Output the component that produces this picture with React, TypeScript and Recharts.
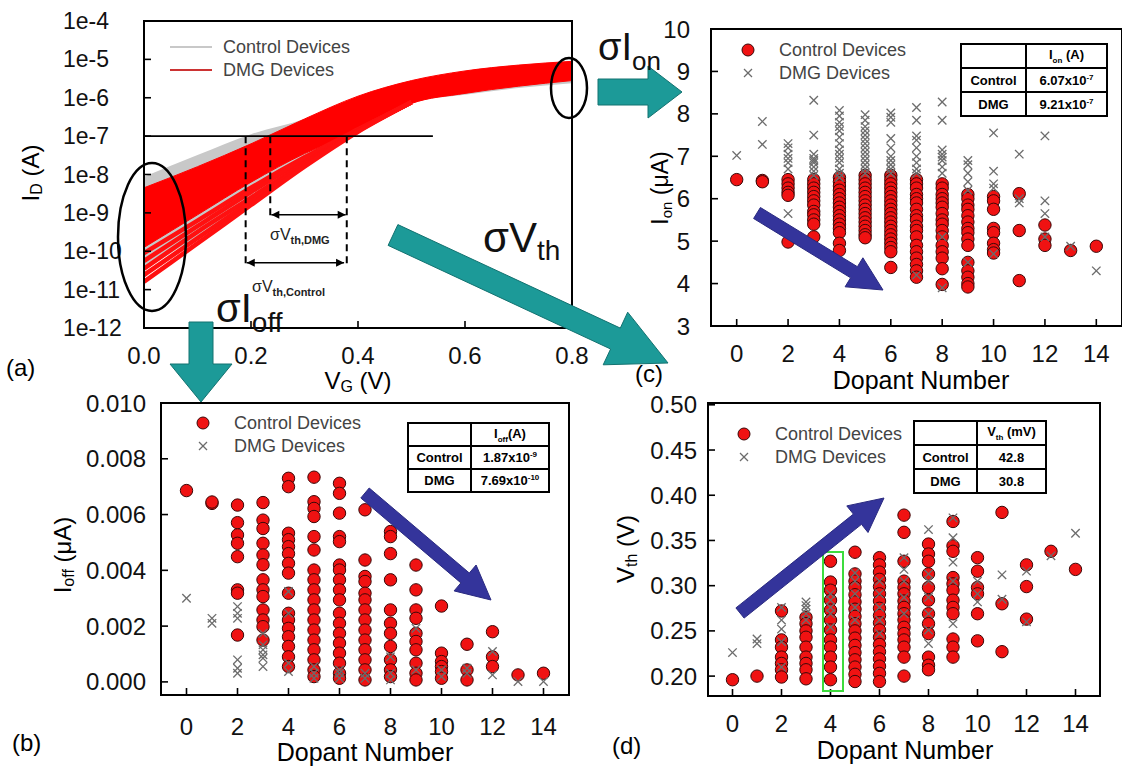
import React from "react";
import {
  ComposedChart, Area, Line, XAxis, YAxis, ReferenceLine, ReferenceArea, ScatterChart, Scatter,
} from "recharts";

const FONT = "'Liberation Sans', Arial, Helvetica, sans-serif";

// ---- panel (a): I_D vs V_G sweep (A) ----
const vg = [0, 0.1, 0.2, 0.3, 0.4, 0.5, 0.6, 0.7, 0.8];
const ctrlUpper = [8.7e-9, 3.2e-8, 1.12e-7, 2.8e-7, 1.0e-6, 2.5e-6, 4.5e-6, 6.3e-6, 7.9e-6];
const ctrlLower = [3.2e-11, 2.5e-10, 2.0e-9, 1.6e-8, 1.3e-7, 7.5e-7, 1.2e-6, 1.8e-6, 2.4e-6];
const dmgUpper = [4.5e-9, 1.6e-8, 6.3e-8, 2.8e-7, 1.1e-6, 2.8e-6, 5.0e-6, 7.1e-6, 8.9e-6];
const dmgLower = [1.26e-10, 8.9e-10, 6.3e-9, 3.5e-8, 1.3e-7, 7.1e-7, 1.3e-6, 2.0e-6, 2.8e-6];
// outlying DMG devices below the main bundle, joining it near 0.5 V
const dmgTail1 = [8.9e-11, 6.3e-10, 4.5e-9, 2.8e-8, 1.5e-7, 7.6e-7];
const dmgTail2 = [5.6e-11, 4.5e-10, 3.5e-9, 2.5e-8, 1.45e-7, 7.6e-7];
const dmgTail3 = [3.5e-11, 3.2e-10, 2.5e-9, 2.0e-8, 1.4e-7, 7.6e-7];
const dmgTail4 = [2.4e-11, 2.2e-10, 2.0e-9, 1.8e-8, 1.35e-7, 7.6e-7];
const dmgTail5 = [1.6e-11, 1.6e-10, 1.6e-9, 1.6e-8, 1.3e-7, 7.6e-7];
const vgTicks = [0, 0.2, 0.4, 0.6, 0.8];
const idTicks = [1e-12, 1e-11, 1e-10, 1e-9, 1e-8, 1e-7, 1e-6, 1e-5, 1e-4];

const sweep = vg.map((v, i) => ({
  v,
  ctrl: [ctrlLower[i], ctrlUpper[i]],
  dmg: [dmgLower[i], dmgUpper[i]],
  t1: dmgTail1[i], t2: dmgTail2[i], t3: dmgTail3[i], t4: dmgTail4[i], t5: dmgTail5[i],
}));

// ---- scatter panels: [dopant number, values] ----
type Col = [number, number[]][];
const dopantTicks = [0, 2, 4, 6, 8, 10, 12, 14];

const ionControl: Col = [
  [0, [6.45]], [1, [6.43, 6.4]], [2, [6.45, 6.35, 6.25, 6.15, 6.08, 4.98]],
  [3, [6.45, 6.35, 6.25, 6.15, 6.05, 5.95, 5.85, 5.7, 5.62, 5.5, 5.4, 5.1]],
  [4, [6.5, 6.4, 6.3, 6.2, 6.1, 6.0, 5.9, 5.8, 5.7, 5.6, 5.5, 5.4, 5.3, 5.2, 4.95, 4.78]],
  [5, [6.55, 6.45, 6.35, 6.25, 6.15, 6.05, 5.95, 5.85, 5.75, 5.65, 5.55, 5.45, 5.35, 5.25, 5.15, 5.08]],
  [6, [6.55, 6.45, 6.35, 6.25, 6.15, 6.05, 5.95, 5.85, 5.75, 5.65, 5.55, 5.45, 5.35, 5.25, 5.15, 5.05, 4.95, 4.85, 4.75, 4.38]],
  [7, [6.45, 6.35, 6.25, 6.1, 6.0, 5.9, 5.75, 5.6, 5.5, 5.35, 5.25, 5.1, 4.9, 4.75, 4.6, 4.45, 4.3, 4.15]],
  [8, [6.35, 6.25, 6.1, 6.0, 5.9, 5.8, 5.65, 5.5, 5.4, 5.25, 5.1, 4.9, 4.75, 4.6, 4.35, 3.98]],
  [9, [6.1, 6.0, 5.85, 5.75, 5.6, 5.45, 5.3, 5.2, 5.05, 4.9, 4.5, 4.3, 4.15, 4.0, 3.92]],
  [10, [6.05, 5.95, 5.75, 5.3, 5.2, 4.95, 4.8, 4.72]],
  [11, [6.12, 5.25, 4.07]], [12, [5.38, 5.05, 4.9]], [13, [4.78]], [14, [4.88]],
];
const ionDmg: Col = [
  [0, [7.02]], [1, [7.82, 7.28]], [2, [7.3, 7.2, 7.05, 6.95, 6.85, 6.7, 5.65]],
  [3, [8.32, 7.5, 7.05, 6.95, 6.9, 6.85, 6.75, 6.65, 6.55]],
  [4, [8.08, 7.95, 7.8, 7.7, 7.6, 7.45, 7.3, 7.15, 7.05, 6.95, 6.85, 6.7, 6.6, 6.5]],
  [5, [7.98, 7.85, 7.7, 7.6, 7.5, 7.4, 7.3, 7.2, 7.1, 7.0, 6.9, 6.8, 6.7, 6.6]],
  [6, [8.02, 7.92, 7.8, 7.42, 7.2, 7.0, 6.9, 6.8, 6.7, 6.6]],
  [7, [8.15, 7.85, 7.48, 7.38, 7.2, 7.0, 6.85, 6.7, 6.6, 4.2]],
  [8, [8.28, 7.85, 7.15, 7.05, 6.98, 6.9, 6.75, 6.6, 5.1, 3.9]],
  [9, [6.9, 6.8, 6.6, 6.4, 6.2, 4.5]], [10, [7.55, 6.65, 6.35, 6.25, 4.7]],
  [11, [7.05, 6.0, 5.9]], [12, [7.48, 5.95, 5.65, 5.1]], [13, [4.88]], [14, [4.3]],
];
const ionTicks = [3, 4, 5, 6, 7, 8, 9, 10];

const ioffControl: Col = [
  [0, [0.00686]], [1, [0.0064, 0.00645]],
  [2, [0.00634, 0.00571, 0.00527, 0.00497, 0.00449, 0.0033, 0.00318, 0.00168]],
  [3, [0.00643, 0.0058, 0.0055, 0.00497, 0.00455, 0.0042, 0.00366, 0.0033, 0.00306, 0.00258, 0.00222, 0.00198, 0.0015]],
  [4, [0.0073, 0.007, 0.00533, 0.0051, 0.00485, 0.0046, 0.00425, 0.0039, 0.00318, 0.00246, 0.00222, 0.00192, 0.00162, 0.00127, 0.0009, 0.00055]],
  [5, [0.00734, 0.00646, 0.00622, 0.00593, 0.00521, 0.00473, 0.00401, 0.00366, 0.0033, 0.00294, 0.00258, 0.00222, 0.00186, 0.0015, 0.00115, 0.00079, 0.00043, 0.00019]],
  [6, [0.00712, 0.00676, 0.00605, 0.00521, 0.00503, 0.00419, 0.00401, 0.00366, 0.0033, 0.00294, 0.00246, 0.0021, 0.00174, 0.00139, 0.00103, 0.00067, 0.00031, 0.00013]],
  [7, [0.00617, 0.00437, 0.00378, 0.0036, 0.00318, 0.00294, 0.00258, 0.00222, 0.00186, 0.0015, 0.00115, 0.00079, 0.00043, 0.00007]],
  [8, [0.00539, 0.00521, 0.0046, 0.00366, 0.00258, 0.0021, 0.00174, 0.00127, 0.00079, 0.00043, 0.00019]],
  [9, [0.00419, 0.0033, 0.00258, 0.00228, 0.00174, 0.00145, 0.00115, 0.00067, 0.00031, 0.00007]],
  [10, [0.00272, 0.00103, 0.00073, 0.00055, 0.00037, 0.00013]],
  [11, [0.00135, 0.00043, 0.00007]], [12, [0.0018, 0.0009, 0.00055]], [13, [0.00025]], [14, [0.00031]],
];
const ioffDmg: Col = [
  [0, [0.003]], [1, [0.00228, 0.0021]], [2, [0.0027, 0.00246, 0.00228, 0.00079, 0.00049, 0.00031]],
  [3, [0.00174, 0.00133, 0.00115, 0.00097, 0.00085, 0.00055]], [4, [0.00324, 0.00246, 0.00067, 0.00037]],
  [5, [0.00055, 0.00031, 0.00013]], [6, [0.00043, 0.00031, 0.00013]], [7, [0.00031, 0.00013]],
  [8, [0.0009, 0.00031, 0.00007]], [9, [0.00192, 0.00043]], [10, [0.00043, 0.00019]],
  [11, [0.00049, 0.00031]], [12, [0.00109, 0.00025]], [13, [0.00001]], [14, [0.00001]],
];
const ioffTicks = [0, 0.002, 0.004, 0.006, 0.008, 0.01];

const vthControl: Col = [
  [0, [0.196]], [1, [0.2]], [2, [0.272, 0.24, 0.232, 0.221, 0.214, 0.207, 0.199]],
  [3, [0.265, 0.258, 0.25, 0.243, 0.232, 0.221, 0.214, 0.207, 0.197]],
  [4, [0.327, 0.304, 0.295, 0.284, 0.273, 0.262, 0.251, 0.24, 0.232, 0.221, 0.21, 0.196]],
  [5, [0.337, 0.313, 0.305, 0.298, 0.29, 0.282, 0.274, 0.266, 0.258, 0.25, 0.242, 0.234, 0.226, 0.218, 0.21, 0.202, 0.194]],
  [6, [0.331, 0.323, 0.315, 0.307, 0.299, 0.291, 0.283, 0.275, 0.267, 0.259, 0.251, 0.243, 0.235, 0.227, 0.219, 0.211, 0.203, 0.194]],
  [7, [0.378, 0.359, 0.327, 0.305, 0.298, 0.291, 0.283, 0.276, 0.269, 0.262, 0.254, 0.247, 0.24, 0.232, 0.221, 0.2]],
  [8, [0.346, 0.335, 0.327, 0.313, 0.298, 0.284, 0.269, 0.258, 0.247, 0.221, 0.212, 0.207]],
  [9, [0.371, 0.344, 0.338, 0.309, 0.302, 0.295, 0.284, 0.276, 0.269, 0.241, 0.232, 0.221]],
  [10, [0.331, 0.316, 0.298, 0.291, 0.269, 0.239]],
  [11, [0.381, 0.28, 0.227]], [12, [0.323, 0.299, 0.263]], [13, [0.338]], [14, [0.318]],
];
const vthDmg: Col = [
  [0, [0.226]], [1, [0.241, 0.236]], [2, [0.276, 0.262, 0.252, 0.238, 0.21]],
  [3, [0.282, 0.278, 0.274, 0.269, 0.262]], [4, [0.291, 0.284, 0.276, 0.269, 0.254]],
  [5, [0.314, 0.305, 0.291, 0.276, 0.262]], [6, [0.305, 0.291, 0.276, 0.262, 0.247]],
  [7, [0.331, 0.318, 0.305, 0.287, 0.269]], [8, [0.362, 0.313, 0.305, 0.287, 0.269, 0.251, 0.236]],
  [9, [0.375, 0.353, 0.326, 0.305, 0.258]], [10, [0.305, 0.291, 0.282]],
  [11, [0.312, 0.285]], [12, [0.316, 0.26]], [13, [0.333]], [14, [0.358]],
];
const vthTicks = [0.2, 0.25, 0.3, 0.35, 0.4, 0.45, 0.5];

const flat = (cols: Col) => cols.flatMap(([x, ys]) => ys.map((y) => ({ x, y })));

// ---- decorations (page pixels) ----
type Arrow = { from: [number, number]; to: [number, number]; shaft: number; head: number; len: number };
const tealArrows: Arrow[] = [
  { from: [598, 92], to: [682, 92], shaft: 26, head: 52, len: 34 },
  { from: [201, 322], to: [201, 402], shaft: 24, head: 62, len: 38 },
  { from: [393, 235], to: [668, 363], shaft: 23, head: 58, len: 58 },
];
const blueArrows: Arrow[] = [
  { from: [757, 213], to: [883, 290], shaft: 13, head: 34, len: 34 },
  { from: [365, 493], to: [491, 600], shaft: 13, head: 34, len: 34 },
  { from: [740, 613], to: [884, 498], shaft: 13, head: 34, len: 34 },
];

function arrowPoints({ from, to, shaft, head, len }: Arrow) {
  const [x1, y1] = from;
  const [x2, y2] = to;
  const L = Math.hypot(x2 - x1, y2 - y1);
  const ux = (x2 - x1) / L, uy = (y2 - y1) / L;
  const px = -uy, py = ux;
  const bx = x2 - ux * len, by = y2 - uy * len;
  const p = (x: number, y: number) => `${x.toFixed(1)},${y.toFixed(1)}`;
  return [
    p(x1 + (px * shaft) / 2, y1 + (py * shaft) / 2),
    p(bx + (px * shaft) / 2, by + (py * shaft) / 2),
    p(bx + (px * head) / 2, by + (py * head) / 2),
    p(x2, y2),
    p(bx - (px * head) / 2, by - (py * head) / 2),
    p(bx - (px * shaft) / 2, by - (py * shaft) / 2),
    p(x1 - (px * shaft) / 2, y1 - (py * shaft) / 2),
  ].join(" ");
}

// ---- ticks (drawn inward, like the original) ----
const yTick = (gap: number, fmt: (v: number) => string, anchor: "end" | "start" = "end", fs = 24) =>
  (props: any) => {
    const { x, y, payload } = props;
    const ax = x + gap;
    return (
      <g>
        <line x1={ax} x2={ax + 7} y1={y} y2={y} stroke="#000" strokeWidth={1.6} />
        <text x={x} y={y} textAnchor={anchor} dominantBaseline="central" fontSize={fs} fontFamily={FONT} fill="#111">
          {fmt(payload.value)}
        </text>
      </g>
    );
  };
const xTick = (gap: number, fmt: (v: number) => string, fs = 24) =>
  (props: any) => {
    const { x, y, payload } = props;
    const ay = y - gap;
    return (
      <g>
        <line x1={x} x2={x} y1={ay} y2={ay - 7} stroke="#000" strokeWidth={1.6} />
        <text x={x} y={y} textAnchor="middle" dominantBaseline="central" fontSize={fs} fontFamily={FONT} fill="#111">
          {fmt(payload.value)}
        </text>
      </g>
    );
  };

const axisLine = { stroke: "#000", strokeWidth: 2 };

const RedDot = (p: any) => (
  <circle cx={p.cx} cy={p.cy} r={6.2} fill="#f01212" stroke="#3a0808" strokeWidth={1} />
);
const GreyCross = (p: any) => {
  const s = 4.2;
  return (
    <g stroke="#6c6c6c" strokeWidth={1.3}>
      <line x1={p.cx - s} y1={p.cy - s} x2={p.cx + s} y2={p.cy + s} />
      <line x1={p.cx - s} y1={p.cy + s} x2={p.cx + s} y2={p.cy - s} />
    </g>
  );
};

const DimArrow = (p: any) => {
  const { x1, y1, x2, y2 } = p;
  const h = 8, w = 4;
  return (
    <g>
      <line x1={x1} y1={y1} x2={x2} y2={y2} stroke="#000" strokeWidth={1.6} />
      <polygon points={`${x1},${y1} ${x1 + h},${y1 - w} ${x1 + h},${y1 + w}`} fill="#000" />
      <polygon points={`${x2},${y2} ${x2 - h},${y2 - w} ${x2 - h},${y2 + w}`} fill="#000" />
    </g>
  );
};

function SweepPanel() {
  return (
    <ComposedChart width={600} height={400} data={sweep} margin={{ top: 21, right: 28, bottom: 0, left: 0 }}>
      <XAxis
        dataKey="v" type="number" domain={[0, 0.8]} ticks={vgTicks} interval={0} height={72}
        axisLine={axisLine} tickLine={false} tickSize={0} tickMargin={27}
        tick={xTick(27, (v) => v.toFixed(1))} allowDataOverflow
      />
      <YAxis
        type="number" scale="log" domain={[1e-12, 1e-4]} ticks={idTicks} interval={0} width={144}
        axisLine={axisLine} tickLine={false} tickSize={0} tickMargin={81} allowDataOverflow
        tick={yTick(81, (v) => `1e${Math.round(Math.log10(v))}`, "start", 23)}
      />
      <Area dataKey="ctrl" type="monotone" stroke="none" fill="#c8c8c8" fillOpacity={1} isAnimationActive={false} />
      <Area dataKey="dmg" type="monotone" stroke="#ff0000" strokeWidth={1} fill="#ff0000" fillOpacity={1} isAnimationActive={false} />
      {["t1", "t2", "t3", "t4", "t5"].map((k) => (
        <Line key={k} dataKey={k} type="monotone" stroke="#ff1010" strokeWidth={4.5} dot={false} isAnimationActive={false} />
      ))}
      <ReferenceArea x1={0} x2={0.8} y1={1e-12} y2={1e-4} fill="none" stroke="#000" strokeWidth={2} />
      <ReferenceLine segment={[{ x: 0, y: 1e-7 }, { x: 0.54, y: 1e-7 }]} stroke="#000" strokeWidth={1.6} />
      <ReferenceLine segment={[{ x: 0.19, y: 1e-7 }, { x: 0.19, y: 4e-11 }]} stroke="#000" strokeWidth={2} strokeDasharray="7 5" />
      <ReferenceLine segment={[{ x: 0.236, y: 1e-7 }, { x: 0.236, y: 8e-10 }]} stroke="#000" strokeWidth={2} strokeDasharray="7 5" />
      <ReferenceLine segment={[{ x: 0.379, y: 1e-7 }, { x: 0.379, y: 4e-11 }]} stroke="#000" strokeWidth={2} strokeDasharray="7 5" />
      <ReferenceLine segment={[{ x: 0.238, y: 8.9e-10 }, { x: 0.377, y: 8.9e-10 }]} shape={DimArrow} />
      <ReferenceLine segment={[{ x: 0.192, y: 5e-11 }, { x: 0.374, y: 5e-11 }]} shape={DimArrow} />
    </ComposedChart>
  );
}

type ScatterProps = {
  w: number; h: number; margin: any; yW: number; xH: number;
  yDomain: [number, number]; yTicks: number[]; yGap: number; xGap: number;
  fmt: (v: number) => string; control: Col; dmg: Col;
};
function DopantPanel(p: ScatterProps) {
  return (
    <ScatterChart width={p.w} height={p.h} margin={p.margin}>
      <XAxis
        type="number" dataKey="x" domain={[-1, 15]} ticks={dopantTicks} interval={0} height={p.xH}
        axisLine={axisLine} tickLine={false} tickSize={0} tickMargin={p.xGap}
        tick={xTick(p.xGap, (v) => String(v))} allowDataOverflow
      />
      <YAxis
        type="number" dataKey="y" domain={p.yDomain} ticks={p.yTicks} interval={0} width={p.yW}
        axisLine={axisLine} tickLine={false} tickSize={0} tickMargin={p.yGap}
        tick={yTick(p.yGap, p.fmt)} allowDataOverflow
      />
      <ReferenceArea x1={-1} x2={15} y1={p.yDomain[0]} y2={p.yDomain[1]} fill="none" stroke="#000" strokeWidth={2} />
      <Scatter data={flat(p.control)} shape={RedDot} isAnimationActive={false} />
      <Scatter data={flat(p.dmg)} shape={GreyCross} isAnimationActive={false} />
    </ScatterChart>
  );
}

function ScatterLegend({ x, y }: { x: number; y: number }) {
  return (
    <g fontFamily={FONT} fontSize={18} fill="#444">
      <circle cx={x} cy={y} r={6} fill="#f01212" stroke="#3a0808" strokeWidth={1} />
      <text x={x + 31} y={y} dominantBaseline="central">Control Devices</text>
      <g stroke="#6c6c6c" strokeWidth={1.3}>
        <line x1={x - 4} y1={y + 19} x2={x + 4} y2={y + 27} />
        <line x1={x - 4} y1={y + 27} x2={x + 4} y2={y + 19} />
      </g>
      <text x={x + 31} y={y + 23} dominantBaseline="central">DMG Devices</text>
    </g>
  );
}

const cell: React.CSSProperties = {
  border: "2px solid #000", textAlign: "center", fontWeight: 700, fontSize: 13, padding: 0, fontFamily: FONT,
};
function StatTable({ left, top, w1, w2, rowH, head, rows }: {
  left: number; top: number; w1: number; w2: number; rowH: number;
  head: React.ReactNode; rows: [string, React.ReactNode][];
}) {
  return (
    <table style={{ position: "absolute", left, top, borderCollapse: "collapse", background: "#fff" }}>
      <tbody>
        <tr style={{ height: rowH }}>
          <td style={{ ...cell, width: w1 }} />
          <td style={{ ...cell, width: w2 }}>{head}</td>
        </tr>
        {rows.map(([a, b]) => (
          <tr key={a} style={{ height: rowH }}>
            <td style={cell}>{a}</td>
            <td style={cell}>{b}</td>
          </tr>
        ))}
      </tbody>
    </table>
  );
}
const sci = (m: string, e: string) => (
  <span>{m}x10<sup style={{ fontSize: 8 }}>{e}</sup></span>
);

export default function App() {
  const abs = (left: number, top: number): React.CSSProperties => ({ position: "absolute", left, top });
  return (
    <div style={{ position: "absolute", left: 0, top: 0, width: 1122, height: 769, background: "#fff", overflow: "hidden", fontFamily: FONT }}>
      <div style={abs(0, 0)}><SweepPanel /></div>
      <div style={abs(600, 0)}>
        <DopantPanel w={522} h={400} margin={{ top: 29, right: 0, bottom: 0, left: 0 }} yW={111} xH={74}
          yDomain={[3, 10]} yTicks={ionTicks} yGap={21} xGap={27} fmt={(v) => String(v)}
          control={ionControl} dmg={ionDmg} />
      </div>
      <div style={abs(0, 380)}>
        <DopantPanel w={580} h={389} margin={{ top: 23, right: 11, bottom: 0, left: 0 }} yW={161} xH={74}
          yDomain={[-0.00047, 0.01]} yTicks={ioffTicks} yGap={15} xGap={31} fmt={(v) => v.toFixed(3)}
          control={ioffControl} dmg={ioffDmg} />
      </div>
      <div style={abs(580, 380)}>
        <DopantPanel w={542} h={389} margin={{ top: 23, right: 22, bottom: 0, left: 0 }} yW={128} xH={73}
          yDomain={[0.178, 0.502]} yTicks={vthTicks} yGap={11} xGap={27} fmt={(v) => v.toFixed(2)}
          control={vthControl} dmg={vthDmg} />
      </div>

      <svg width={1122} height={769} style={{ position: "absolute", left: 0, top: 0, pointerEvents: "none" }} fontFamily={FONT}>
        {/* legend (a) */}
        <line x1={170} x2={212} y1={47} y2={47} stroke="#c8c8c8" strokeWidth={2} />
        <line x1={170} x2={212} y1={70} y2={70} stroke="#cc3333" strokeWidth={2} />
        <text x={223} y={47} fontSize={18} fill="#444" dominantBaseline="central">Control Devices</text>
        <text x={223} y={70} fontSize={18} fill="#444" dominantBaseline="central">DMG Devices</text>

        {/* ellipses marking Ioff / Ion spread */}
        <ellipse cx={152} cy={237} rx={34} ry={74} fill="none" stroke="#000" strokeWidth={2.5} />
        <ellipse cx={569} cy={88} rx={18} ry={30} fill="none" stroke="#000" strokeWidth={2.5} />

        {/* dimension labels */}
        <text x={270} y={240} fontSize={16} fill="#222">σV<tspan fontSize={11} fontWeight={700} dy={4}>th,DMG</tspan></text>
        <text x={252} y={292} fontSize={16} fill="#222">σV<tspan fontSize={11} fontWeight={700} dy={4}>th,Control</tspan></text>

        {/* axis titles */}
        <text x={30} y={173} transform="rotate(-90 30 173)" textAnchor="middle" dominantBaseline="central" fontSize={24}>
          I<tspan fontSize={16} dy={6}>D</tspan><tspan dy={-6}> (A)</tspan>
        </text>
        <text x={358} y={380} textAnchor="middle" dominantBaseline="central" fontSize={24}>
          V<tspan fontSize={16} dy={6}>G</tspan><tspan dy={-6}> (V)</tspan>
        </text>
        <text x={660} y={188} transform="rotate(-90 660 188)" textAnchor="middle" dominantBaseline="central" fontSize={23}>
          I<tspan fontSize={15} dy={6}>on</tspan><tspan dy={-6}> (μA)</tspan>
        </text>
        <text x={921} y={380} textAnchor="middle" dominantBaseline="central" fontSize={25}>Dopant Number</text>
        <text x={62} y={555} transform="rotate(-90 62 555)" textAnchor="middle" dominantBaseline="central" fontSize={24}>
          I<tspan fontSize={16} dy={6}>off</tspan><tspan dy={-6}> (μA)</tspan>
        </text>
        <text x={365} y={752} textAnchor="middle" dominantBaseline="central" fontSize={25}>Dopant Number</text>
        <text x={625} y={549} transform="rotate(-90 625 549)" textAnchor="middle" dominantBaseline="central" fontSize={24}>
          V<tspan fontSize={16} dy={6}>th</tspan><tspan dy={-6}> (V)</tspan>
        </text>
        <text x={905} y={750} textAnchor="middle" dominantBaseline="central" fontSize={25}>Dopant Number</text>

        {/* panel letters */}
        <text x={6} y={367} fontSize={24} dominantBaseline="central">(a)</text>
        <text x={12} y={742} fontSize={24} dominantBaseline="central">(b)</text>
        <text x={635} y={373} fontSize={24} dominantBaseline="central">(c)</text>
        <text x={612} y={745} fontSize={24} dominantBaseline="central">(d)</text>

        {/* green box around dopant 4 in (d) */}
        <rect x={823} y={552} width={20} height={139} fill="none" stroke="#3ddc3d" strokeWidth={2} />

        <ScatterLegend x={748} y={50} />
        <ScatterLegend x={203} y={423} />
        <ScatterLegend x={744} y={434} />

        {blueArrows.map((a, i) => (
          <polygon key={`b${i}`} points={arrowPoints(a)} fill="#34349b" stroke="#2a2a80" strokeWidth={1} />
        ))}
        {tealArrows.map((a, i) => (
          <polygon key={`t${i}`} points={arrowPoints(a)} fill="#1c9a98" stroke="#137270" strokeWidth={1} />
        ))}

        {/* sigma labels */}
        <text x={598} y={60} fontSize={38} fill="#111">σI<tspan fontSize={26} dy={10}>on</tspan></text>
        <text x={483} y={252} fontSize={42} fill="#111">σV<tspan fontSize={28} dy={8}>th</tspan></text>
        <text x={216} y={322} fontSize={40} fill="#111">σI<tspan fontSize={28} dy={10}>off</tspan></text>
      </svg>

      <StatTable left={960} top={43} w1={63} w2={79} rowH={24}
        head={<span>I<sub style={{ fontSize: 8 }}>on</sub> (A)</span>}
        rows={[["Control", sci("6.07", "-7")], ["DMG", sci("9.21", "-7")]]} />
      <StatTable left={407} top={422} w1={61} w2={76} rowH={23}
        head={<span>I<sub style={{ fontSize: 8 }}>off</sub>(A)</span>}
        rows={[["Control", sci("1.87", "-9")], ["DMG", sci("7.69", "-10")]]} />
      <StatTable left={913} top={420} w1={61} w2={67} rowH={24}
        head={<span>V<sub style={{ fontSize: 8 }}>th</sub> (mV)</span>}
        rows={[["Control", "42.8"], ["DMG", "30.8"]]} />
    </div>
  );
}
